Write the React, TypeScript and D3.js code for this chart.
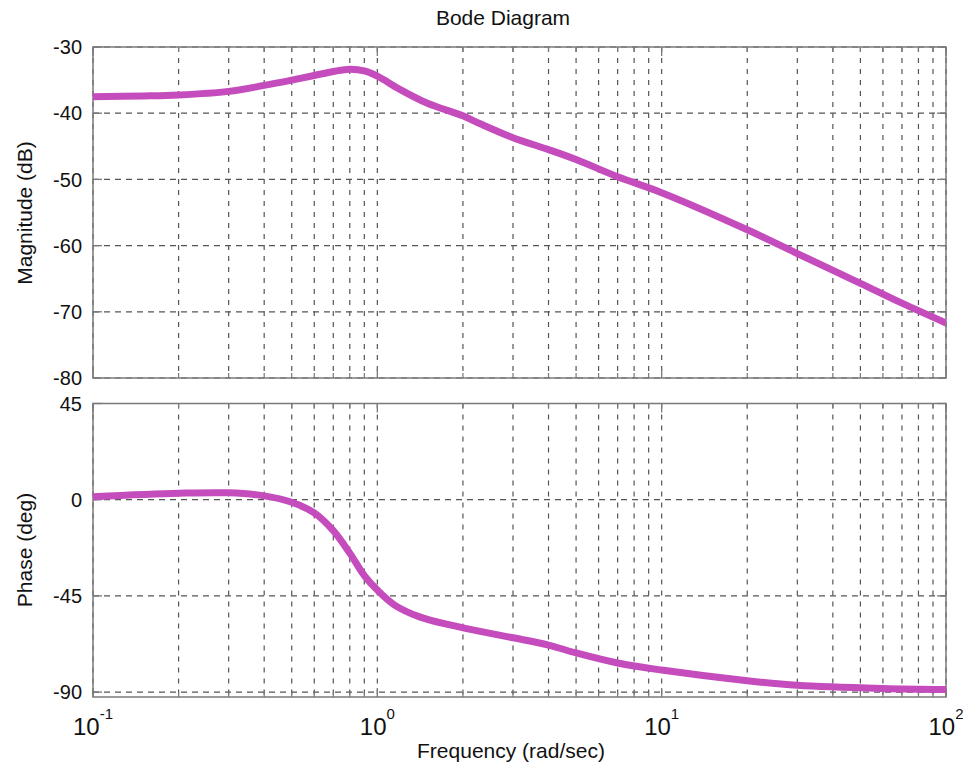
import React from "react";
import * as d3 from "d3";

// ---- data ----
const freqMag = [0.1, 0.15, 0.2, 0.3, 0.4, 0.5, 0.6, 0.7, 0.8, 0.9, 1.0, 1.2, 1.5, 2, 2.3, 3, 4, 5, 7, 10, 20, 30, 50, 70, 100];
const magDb = [-37.5, -37.4, -37.25, -36.7, -35.8, -35.0, -34.3, -33.7, -33.35, -33.6, -34.4, -36.4, -38.5, -40.4, -41.6, -43.7, -45.5, -47.0, -49.6, -52.0, -57.6, -61.2, -65.7, -68.7, -71.7];

const freqPh = [0.1, 0.2, 0.3, 0.4, 0.5, 0.6, 0.7, 0.8, 0.9, 1.0, 1.15, 1.4, 1.8, 2.3, 3, 4, 5, 7, 10, 20, 30, 60, 100];
const phaseDeg = [1.4, 3.0, 3.2, 1.8, -1.2, -6.2, -14.5, -25, -35.5, -42.3, -49.3, -54.7, -58.6, -61.6, -64.6, -68, -71.7, -76.4, -79.7, -84.7, -86.8, -88.3, -88.8];

const magTicks = [-30, -40, -50, -60, -70, -80];
const phaseTicks = [45, 0, -45, -90];
const decadeExps = [-1, 0, 1, 2];

const title = "Bode Diagram";
const magLabel = "Magnitude (dB)";
const phaseLabel = "Phase (deg)";
const freqLabel = "Frequency  (rad/sec)";

// ---- layout ----
const W = 978, H = 768;
const left = 93, right = 946;
const magTop = 47, magBottom = 378;
const phTop = 403.5, phBottom = 697;
const lineColor = "#c54cbc";
const gridColor = "#555";
const borderColor = "#7a7a7a";
const font = "'Liberation Sans', Arial, Helvetica, sans-serif";

export default function App() {
  const x = d3.scaleLog().domain([0.1, 100]).range([left, right]);
  const yMag = d3.scaleLinear().domain([-80, -30]).range([magBottom, magTop]);
  const yPh = d3.scaleLinear().domain([-92.3, 45]).range([phBottom, phTop]);

  const minorFreqs: number[] = [];
  for (const e of [-1, 0, 1]) for (let k = 2; k <= 9; k++) minorFreqs.push(k * Math.pow(10, e));
  const majorFreqs = decadeExps.map((e) => Math.pow(10, e));

  const magData = freqMag.map((f, i) => [f, magDb[i]] as [number, number]);
  const phData = freqPh.map((f, i) => [f, phaseDeg[i]] as [number, number]);

  const curve = d3.curveCatmullRom.alpha(0.5);
  const magLine = d3.line<[number, number]>().x((d) => x(d[0])).y((d) => yMag(d[1])).curve(curve);
  const phLine = d3.line<[number, number]>().x((d) => x(d[0])).y((d) => yPh(d[1])).curve(curve);

  const panel = (
    key: string,
    y: d3.ScaleLinear<number, number>,
    ticks: number[],
    top: number,
    bottom: number,
    path: string,
    showX: boolean
  ) => (
    <g key={key}>
      <defs>
        <clipPath id={`clip-${key}`}>
          <rect x={left} y={top} width={right - left} height={bottom - top} />
        </clipPath>
      </defs>
      <rect x={left} y={top} width={right - left} height={bottom - top} fill="#fff" />
      {[...minorFreqs, ...majorFreqs].map((f, i) => (
        <line key={`vg${i}`} x1={x(f)} x2={x(f)} y1={top} y2={bottom} stroke={gridColor} strokeWidth={1.2} strokeDasharray="5,6" />
      ))}
      {ticks.map((t, i) => (
        <line key={`hg${i}`} x1={left} x2={right} y1={y(t)} y2={y(t)} stroke={gridColor} strokeWidth={1.2} strokeDasharray="6,5" />
      ))}
      <rect x={left} y={top} width={right - left} height={bottom - top} fill="none" stroke={borderColor} strokeWidth={1.5} />
      {majorFreqs.map((f, i) => (
        <g key={`xt${i}`}>
          <line x1={x(f)} x2={x(f)} y1={bottom} y2={bottom - 9} stroke={borderColor} strokeWidth={1.3} />
          <line x1={x(f)} x2={x(f)} y1={top} y2={top + 9} stroke={borderColor} strokeWidth={1.3} />
        </g>
      ))}
      {minorFreqs.map((f, i) => (
        <g key={`xm${i}`}>
          <line x1={x(f)} x2={x(f)} y1={bottom} y2={bottom - 5} stroke={borderColor} strokeWidth={1.2} />
          <line x1={x(f)} x2={x(f)} y1={top} y2={top + 5} stroke={borderColor} strokeWidth={1.2} />
        </g>
      ))}
      {ticks.map((t, i) => (
        <g key={`yt${i}`}>
          <line x1={left} x2={left + 9} y1={y(t)} y2={y(t)} stroke={borderColor} strokeWidth={1.3} />
          <line x1={right} x2={right - 9} y1={y(t)} y2={y(t)} stroke={borderColor} strokeWidth={1.3} />
          <text x={82} y={y(t)} dy="0.36em" textAnchor="end" fontSize={20} fill="#111" fontFamily={font}>
            {t}
          </text>
        </g>
      ))}
      <path d={path} fill="none" stroke={lineColor} strokeWidth={7} strokeLinejoin="round" clipPath={`url(#clip-${key})`} />
      {showX &&
        decadeExps.map((e, i) => (
          <text key={`xl${i}`} x={x(Math.pow(10, e))} y={735} textAnchor="middle" fontFamily={font} fill="#111">
            <tspan fontSize={24}>10</tspan>
            <tspan fontSize={15} dy={-16}>{e}</tspan>
          </text>
        ))}
    </g>
  );

  return (
    <svg width={W} height={H} style={{ position: "absolute", left: 0, top: 0, background: "#fff" }}>
      <rect x={0} y={0} width={W} height={H} fill="#fff" />
      <text x={503} y={25} textAnchor="middle" fontSize={21} fontFamily={font} fill="#111">
        {title}
      </text>
      {panel("mag", yMag, magTicks, magTop, magBottom, magLine(magData) || "", false)}
      {panel("ph", yPh, phaseTicks, phTop, phBottom, phLine(phData) || "", true)}
      <text transform="translate(32,213) rotate(-90)" textAnchor="middle" fontSize={21} fontFamily={font} fill="#111">
        {magLabel}
      </text>
      <text transform="translate(32,550) rotate(-90)" textAnchor="middle" fontSize={21} fontFamily={font} fill="#111">
        {phaseLabel}
      </text>
      <text x={511} y={758} textAnchor="middle" fontSize={21} fontFamily={font} fill="#111">
        {freqLabel}
      </text>
    </svg>
  );
}
